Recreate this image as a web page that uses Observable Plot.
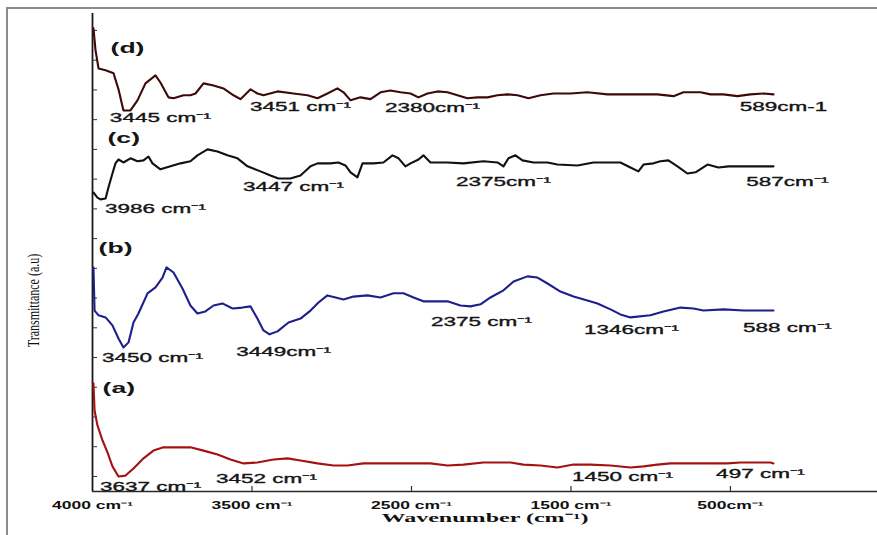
<!DOCTYPE html>
<html><head><meta charset="utf-8">
<script src="https://cdn.jsdelivr.net/npm/d3@7"></script>
<script src="https://cdn.jsdelivr.net/npm/@observablehq/plot@0.6"></script>
<style>
html,body{margin:0;padding:0;background:#fff;}
#wrap{position:relative;width:877px;height:535px;overflow:hidden;}
#frame{position:absolute;left:6px;top:7px;width:900px;height:560px;border-left:2px solid #8c8c8c;border-top:2px solid #8c8c8c;pointer-events:none;}
#chart{position:absolute;left:0;top:0;}
</style></head><body>
<div id="wrap"><div id="chart"></div><div id="frame"></div></div>
<script>
// ---- data (wavenumber position on axis, transmittance a.u.) ----
const names = ["(a)", "(b)", "(c)", "(d)"];
const colors = ["#a31212", "#1f1f8c", "#111111", "#3d0a0a"];

const aWave = [3994,3987,3969,3937,3906,3875,3837,3793,3743,3680,3618,3555,3467,3386,3304,3216,3135,3053,2966,2865,2777,2696,2589,2489,2401,2301,2088,1881,1774,1674,1549,1379,1298,1191,1085,984,878,752,627,545,458,376,188,19,-63,-251,-270];
const aTrans = [3.13,2.22,1.72,1.21,0.81,0.34,0.00,0.03,0.27,0.61,0.87,0.98,0.98,0.98,0.87,0.74,0.57,0.44,0.47,0.57,0.61,0.54,0.44,0.37,0.37,0.44,0.44,0.44,0.37,0.40,0.47,0.47,0.40,0.37,0.30,0.40,0.40,0.37,0.30,0.34,0.40,0.44,0.44,0.44,0.47,0.47,0.44];

const bWave = [3994,3987,3962,3918,3875,3837,3806,3774,3743,3712,3655,3605,3561,3536,3492,3436,3386,3342,3292,3241,3185,3122,3060,3009,2966,2928,2890,2840,2771,2696,2633,2583,2527,2476,2426,2364,2276,2194,2113,2050,1987,1925,1862,1774,1693,1630,1567,1505,1423,1360,1273,1210,1147,1066,984,897,834,752,690,627,502,420,313,232,169,44,-82,-270];
const bTrans = [7.03,5.58,5.42,5.35,5.08,4.64,4.34,4.51,5.18,5.48,6.16,6.36,6.69,7.03,6.86,6.32,5.75,5.48,5.55,5.75,5.82,5.65,5.68,5.72,5.31,4.91,4.78,4.88,5.18,5.31,5.58,5.85,6.09,6.02,5.95,6.05,6.09,6.02,6.16,6.16,6.02,5.89,5.89,5.89,5.75,5.72,5.79,6.02,6.26,6.56,6.73,6.69,6.49,6.22,6.05,5.92,5.82,5.62,5.45,5.35,5.42,5.55,5.68,5.65,5.58,5.62,5.58,5.58];

const cWave = [3994,3969,3950,3918,3900,3875,3856,3837,3806,3762,3718,3680,3649,3624,3574,3511,3448,3386,3342,3279,3216,3154,3091,3028,2947,2884,2834,2759,2696,2633,2589,2508,2458,2414,2382,2339,2307,2238,2176,2119,2081,2038,2006,1956,1925,1881,1774,1674,1549,1461,1423,1392,1348,1304,1235,1147,1085,959,859,752,690,627,577,545,483,439,389,332,270,219,144,75,12,-125,-270];
const cTrans = [9.55,9.38,9.32,9.35,9.72,10.19,10.53,10.66,10.56,10.70,10.60,10.63,10.76,10.53,10.33,10.43,10.53,10.60,10.80,11.00,10.93,10.80,10.70,10.43,10.26,10.12,10.02,10.02,10.12,10.43,10.53,10.53,10.56,10.46,10.23,10.06,10.53,10.53,10.56,10.80,10.70,10.43,10.53,10.66,10.80,10.56,10.56,10.53,10.60,10.56,10.43,10.70,10.80,10.63,10.56,10.56,10.49,10.46,10.56,10.56,10.56,10.39,10.26,10.49,10.53,10.60,10.63,10.43,10.19,10.23,10.49,10.39,10.43,10.43,10.43];

const dWave = [3994,3981,3962,3918,3868,3837,3806,3762,3718,3668,3605,3574,3524,3492,3429,3386,3354,3304,3241,3179,3116,3072,3009,2966,2928,2840,2740,2652,2589,2527,2464,2426,2382,2320,2257,2194,2132,2069,2006,1956,1900,1837,1774,1712,1649,1586,1523,1461,1398,1335,1266,1191,1110,1003,897,771,671,564,458,357,295,188,125,44,-44,-125,-207,-270];
const dTrans = [15.07,14.33,13.72,13.66,13.56,13.02,12.31,12.31,12.65,13.22,13.49,13.25,12.75,12.72,12.82,12.82,12.88,13.22,13.15,13.05,12.82,12.69,13.02,12.88,12.82,12.95,12.88,12.82,12.72,12.88,13.05,12.92,12.65,12.75,12.69,12.92,12.98,12.92,12.88,12.75,12.88,12.95,12.92,12.82,12.72,12.75,12.75,12.82,12.85,12.82,12.72,12.82,12.88,12.88,12.92,12.85,12.85,12.85,12.85,12.79,12.92,12.92,12.85,12.85,12.79,12.85,12.88,12.85];

// peak annotations
const annotText = ["3445 cm⁻¹","3451 cm⁻¹","2380cm⁻¹","589cm-1",
                   "3986 cm⁻¹","3447 cm⁻¹","2375cm⁻¹","587cm⁻¹",
                   "3450 cm⁻¹","3449cm⁻¹","2375 cm⁻¹","1346cm⁻¹","588 cm⁻¹",
                   "3637 cm⁻¹","3452 cm⁻¹","1450 cm⁻¹","497 cm⁻¹"];
const annotWave = [3574,2696,1868,-332, 3605,2740,1423,-357, 3624,2802,1561,621,-357, 3636,2909,677,-188];
const annotTrans = [12.04,12.41,12.38,12.41, 9.01,9.72,9.92,9.92, 4.00,4.17,5.21,4.94,5.01, -0.34,-0.07,-0.03,0.10];

// panel letters
const panelWave = [3937, 3962, 3906, 3887];
const panelTrans = [2.96, 7.67, 11.37, 14.40];

// axes
const xTicks = [4000, 3000, 2000, 1000, 0];
const xTickLabels = ["4000 cm⁻¹", "3500 cm⁻¹", "2500 cm⁻¹", "1500 cm⁻¹", "500cm⁻¹"];
const yTicks = [0,1,2,3,4,5,6,7,8,9,10,11,12,13,14,15];
const xTitle = "Wavenumber (cm⁻¹)";
const yTitle = "Transmittance (a.u)";
const xDomain = [4000, -922];
const yDomain = [-0.505, 15.57];

// ---- build ----
const series = [[aWave, aTrans], [bWave, bTrans], [cWave, cTrans], [dWave, dTrans]];
const lineData = series.flatMap(([w, t], k) =>
  d3.range(Math.min(w.length, t.length)).map(i => ({w: w[i], t: t[i], name: names[k]})));
const xMax = xDomain[0], yMin = yDomain[0];

const plot = Plot.plot({
  width: 877, height: 535,
  marginTop: 13, marginRight: 0, marginBottom: 44, marginLeft: 92,
  style: {fontFamily: "'Liberation Sans', Arial, sans-serif", background: "transparent", overflow: "visible"},
  x: {domain: xDomain, axis: null},
  y: {domain: yDomain, axis: null},
  color: {domain: names, range: colors},
  marks: [
    Plot.ruleY([yMin], {stroke: "#2a2a2a", strokeWidth: 1.6}),
    Plot.ruleX([xMax], {stroke: "#1a1a1a", strokeWidth: 1.8}),
    Plot.ruleY(yTicks, {x1: xMax, x2: xMax, insetRight: -5, stroke: "#333", strokeWidth: 1}),
    Plot.ruleX(xTicks.slice(1), {y1: yMin, y2: yMin, insetTop: -5, stroke: "#333", strokeWidth: 1.2}),
    Plot.line(lineData, {x: "w", y: "t", z: "name", stroke: "name", strokeWidth: 2.1, strokeLinejoin: "round"}),
    Plot.text(annotText, {x: (d, i) => annotWave[i], y: (d, i) => annotTrans[i], text: d => d,
      fontSize: 12.5, fill: "#151515", stroke: "#151515", strokeWidth: 0.35,
      className: "st-annot", ariaDescription: "st-annot"}),
    Plot.text(names, {x: (d, i) => panelWave[i], y: (d, i) => panelTrans[i], text: d => d,
      textAnchor: "start", fontSize: 14, fontWeight: "bold", fill: "#151515", className: "st-panel", ariaDescription: "st-panel"}),
    Plot.text(xTicks, {x: d => d, y: yMin, text: (d, i) => xTickLabels[i], dy: 14,
      fontSize: 10, fontWeight: "bold", fill: "#111", className: "st-tick", ariaDescription: "st-tick"}),
    Plot.text([xTitle], {frameAnchor: "bottom", dy: 30, fontFamily: "'Liberation Serif', 'Times New Roman', serif",
      fontSize: 13, fontWeight: "bold", fill: "#111", className: "st-xt", ariaDescription: "st-xt"}),
    Plot.text([yTitle], {frameAnchor: "left", textAnchor: "middle", dx: -59, dy: 48, rotate: -90,
      fontFamily: "'Liberation Serif', 'Times New Roman', serif", fontSize: 12, fill: "#111",
      className: "st-yt", ariaDescription: "st-yt"})
  ]
});
document.getElementById("chart").appendChild(plot);

function stretch(key, sx, sy) {
  const set = new Set([
    ...plot.querySelectorAll(`g[aria-description="${key}"] text`),
    ...plot.querySelectorAll(`g.${key} text`)
  ]);
  set.forEach(t => {
    let tr = t.getAttribute("transform");
    if (!tr) {
      const x = +t.getAttribute("x") || 0, y = +t.getAttribute("y") || 0;
      t.removeAttribute("x"); t.removeAttribute("y");
      tr = `translate(${x},${y})`;
    }
    t.setAttribute("transform", `${tr} scale(${sx},${sy})`);
  });
}
stretch("st-annot", 1.8, 1);
stretch("st-panel", 1.9, 1);
stretch("st-tick", 1.75, 1);
stretch("st-xt", 1.85, 1);
stretch("st-yt", 1, 1.35);
</script>
</body></html>
